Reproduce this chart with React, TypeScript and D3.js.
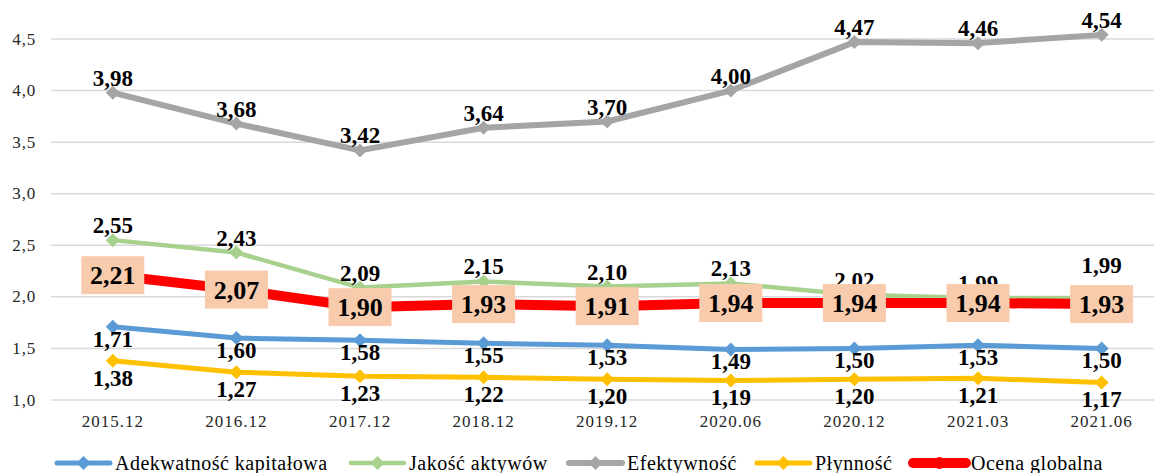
import React from "react";
import * as d3 from "d3";

const categories = ["2015.12", "2016.12", "2017.12", "2018.12", "2019.12", "2020.06", "2020.12", "2021.03", "2021.06"];
const adekwatnosc = [1.71, 1.6, 1.58, 1.55, 1.53, 1.49, 1.5, 1.53, 1.5];
const jakosc = [2.55, 2.43, 2.09, 2.15, 2.1, 2.13, 2.02, 1.99, 1.99];
const efektywnosc = [3.98, 3.68, 3.42, 3.64, 3.7, 4.0, 4.47, 4.46, 4.54];
const plynnosc = [1.38, 1.27, 1.23, 1.22, 1.2, 1.19, 1.2, 1.21, 1.17];
const ocena = [2.21, 2.07, 1.9, 1.93, 1.91, 1.94, 1.94, 1.94, 1.93];
const yTicks = [1.0, 1.5, 2.0, 2.5, 3.0, 3.5, 4.0, 4.5];
const seriesNames = ["Adekwatność kapitałowa", "Jakość aktywów", "Efektywność", "Płynność", "Ocena globalna"];

const W = 1154;
const H = 473;
const FONT = "Liberation Serif, Times New Roman, serif";

type Series = { name: string; values: number[]; color: string; width: number; pos: "above" | "below" | "box"; off: number };

const series: Series[] = [
  { name: seriesNames[0], values: adekwatnosc, color: "#5B9BD5", width: 5, pos: "below", off: 12 },
  { name: seriesNames[1], values: jakosc, color: "#A9D18E", width: 4.5, pos: "above", off: -15 },
  { name: seriesNames[2], values: efektywnosc, color: "#A5A5A5", width: 6, pos: "above", off: -15 },
  { name: seriesNames[3], values: plynnosc, color: "#FFC000", width: 5, pos: "below", off: 17 },
  { name: seriesNames[4], values: ocena, color: "#FF0000", width: 10, pos: "box", off: 0 },
];

const fmt = (v: number, d: number) => d3.format(`.${d}f`)(v).replace(".", ",");

const diamond = (cx: number, cy: number, r: number) =>
  `M${cx},${cy - r}L${cx + r},${cy}L${cx},${cy + r}L${cx - r},${cy}Z`;

export default function App() {
  const x = d3.scaleBand<string>().domain(categories).range([51, 51 + 9 * 123.6]);
  const cx = (c: string) => (x(c) as number) + x.bandwidth() / 2;
  const y = d3.scaleLinear().domain([1, 4.5]).range([400, 39]);
  const line = d3
    .line<number>()
    .x((_, i) => cx(categories[i]))
    .y((v) => y(v));

  const legendStarts = [57, 351, 569, 757, 913];
  const tf = { fontFamily: FONT };

  return (
    <svg width={W} height={H} style={{ position: "absolute", left: 0, top: 0, background: "#fff", fontFamily: FONT }}>
      <rect width={W} height={H} fill="#fff" />
      {yTicks.map((t) => (
        <g key={t}>
          <line x1={51} x2={W} y1={y(t)} y2={y(t)} stroke="#D9D9D9" strokeWidth={1.5} />
          <text x={36} y={y(t) + 5.5} textAnchor="end" fontSize={17} letterSpacing={0.8} fill="#262626" style={tf}>
            {fmt(t, 1)}
          </text>
        </g>
      ))}
      {categories.map((c) => (
        <text key={c} x={cx(c)} y={427} textAnchor="middle" fontSize={17} letterSpacing={1} fill="#262626" style={tf}>
          {c}
        </text>
      ))}
      {series.map((s) => (
        <g key={s.name}>
          <path d={line(s.values) || ""} fill="none" stroke={s.color} strokeWidth={s.width} strokeLinejoin="round" />
          {s.pos !== "box" &&
            s.values.map((v, i) => <path key={i} d={diamond(cx(categories[i]), y(v), 7)} fill={s.color} />)}
        </g>
      ))}
      {series
        .filter((s) => s.pos !== "box")
        .map((s) =>
          s.values.map((v, i) => {
            let off = s.off;
            if (s.name === seriesNames[1] && i === categories.length - 1) off = -33;
            return (
              <text
                key={s.name + i}
                x={cx(categories[i])}
                y={y(v) + off + 8}
                textAnchor="middle"
                fontSize={23}
                fontWeight="bold"
                fill="#000"
                style={tf}
              >
                {fmt(v, 2)}
              </text>
            );
          })
        )}
      {ocena.map((v, i) => (
        <g key={"b" + i}>
          <rect x={cx(categories[i]) - 31.5} y={y(v) - 19} width={63} height={38} fill="#F8CBAD" />
          <text
            x={cx(categories[i])}
            y={y(v) + 9}
            textAnchor="middle"
            fontSize={26}
            fontWeight="bold"
            fill="#000"
            style={tf}
          >
            {fmt(v, 2)}
          </text>
        </g>
      ))}
      {series.map((s, k) => {
        const x0 = legendStarts[k];
        const ly = 463;
        return (
          <g key={"l" + k}>
            <line x1={x0} x2={x0 + 53} y1={ly} y2={ly} stroke={s.color} strokeWidth={s.width} strokeLinecap="round" />
            {s.pos === "box" ? (
              <circle cx={x0 + 26.5} cy={ly} r={6} fill={s.color} />
            ) : (
              <path d={diamond(x0 + 26.5, ly, 7)} fill={s.color} />
            )}
            <text x={x0 + 58} y={470} fontSize={20} letterSpacing={0.5} fill="#000" style={tf}>
              {s.name}
            </text>
          </g>
        );
      })}
    </svg>
  );
}
